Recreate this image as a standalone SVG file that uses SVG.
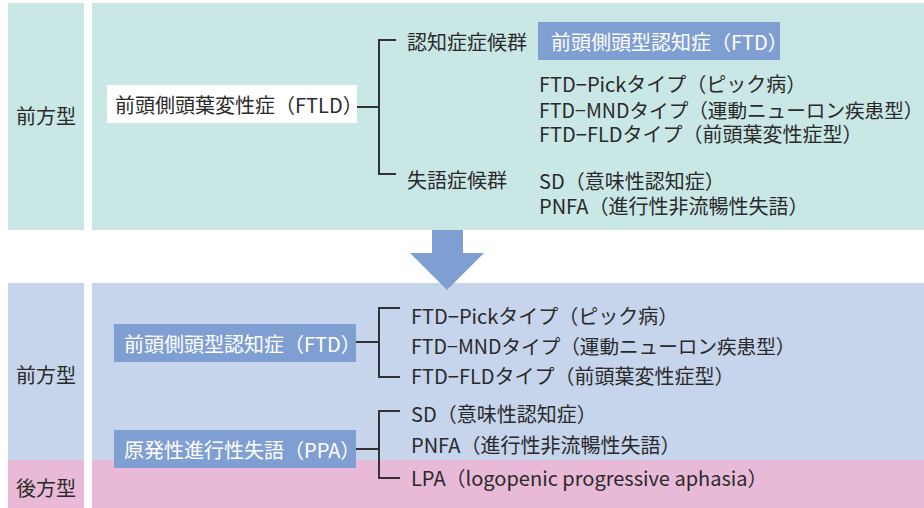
<svg xmlns="http://www.w3.org/2000/svg" width="924" height="508" viewBox="0 0 924 508">
<style>
text{font-family:"Noto Sans CJK JP","Noto Sans",sans-serif;font-size:20px;fill:#2a2a2a;dominant-baseline:central}
.side{font-size:20px}
.mnd{font-size:19.6px}
.w{fill:#ffffff}
.conn{fill:none;stroke:#333333;stroke-width:2}
.teal{fill:#c9e7e5}
.blue{fill:#c6d4ec}
.pink{fill:#e9bad7}
.box{fill:#7f9fd2}
</style>
<rect width="924" height="508" fill="#ffffff"/>
<g id="top-section">
<rect class="teal" x="8" y="3" width="76" height="227"/>
<rect class="teal" x="92" y="3" width="832" height="227"/>
<text class="side" x="16" y="115">前方型</text>
</g>
<g id="bottom-section">
<rect class="blue" x="8" y="283" width="76" height="177"/>
<rect class="blue" x="92" y="283" width="832" height="177"/>
<rect class="pink" x="8" y="460" width="76" height="48"/>
<rect class="pink" x="92" y="460" width="832" height="48"/>
<text class="side" x="16" y="374">前方型</text>
<text class="side" x="16" y="487">後方型</text>
</g>
<g id="arrow">
<polygon class="box" points="432,230 463,230 463,253 484,253 447,290 410,253 432,253"/>
</g>
<g id="connectors">
<path class="conn" d="M357,107 H379 M396,40 H379 V174 H396"/>
<path class="conn" d="M356,342 H379 M400,308 H379 V377 H400"/>
<path class="conn" d="M356,449 H379 M400,411 H379 V478 H400"/>
</g>
<g id="ftld">
<rect x="107" y="85" width="250" height="38" fill="#ffffff"/>
<text x="115" y="104">前頭側頭葉変性症（FTLD）</text>
</g>
<g id="cognitive">
<text x="407" y="41">認知症症候群</text>
</g>
<g id="ftd-top">
<rect class="box" x="538" y="22" width="242" height="38"/>
<text class="w" x="551" y="41">前頭側頭型認知症（FTD）</text>
</g>
<g id="ftd-types-top">
<text x="539" y="83">FTD−Pickタイプ（ピック病）</text>
<text class="mnd" x="539" y="109">FTD−MNDタイプ（運動ニューロン疾患型）</text>
<text x="539" y="133">FTD−FLDタイプ（前頭葉変性症型）</text>
</g>
<g id="aphasia">
<text x="407" y="179">失語症候群</text>
</g>
<g id="aphasia-types-top">
<text x="539" y="180">SD（意味性認知症）</text>
<text x="539" y="205">PNFA（進行性非流暢性失語）</text>
</g>
<g id="ftd-bottom">
<rect class="box" x="114" y="324" width="242" height="38"/>
<text class="w" x="124" y="343">前頭側頭型認知症（FTD）</text>
</g>
<g id="ftd-types-bottom">
<text x="411" y="315">FTD−Pickタイプ（ピック病）</text>
<text class="mnd" x="411" y="345">FTD−MNDタイプ（運動ニューロン疾患型）</text>
<text x="411" y="375">FTD−FLDタイプ（前頭葉変性症型）</text>
</g>
<g id="ppa">
<rect class="box" x="114" y="430" width="242" height="38"/>
<text class="w" x="124" y="449">原発性進行性失語（PPA）</text>
</g>
<g id="ppa-types">
<text x="411" y="413">SD（意味性認知症）</text>
<text x="411" y="444">PNFA（進行性非流暢性失語）</text>
<text x="411" y="477">LPA（logopenic progressive aphasia）</text>
</g>
</svg>
